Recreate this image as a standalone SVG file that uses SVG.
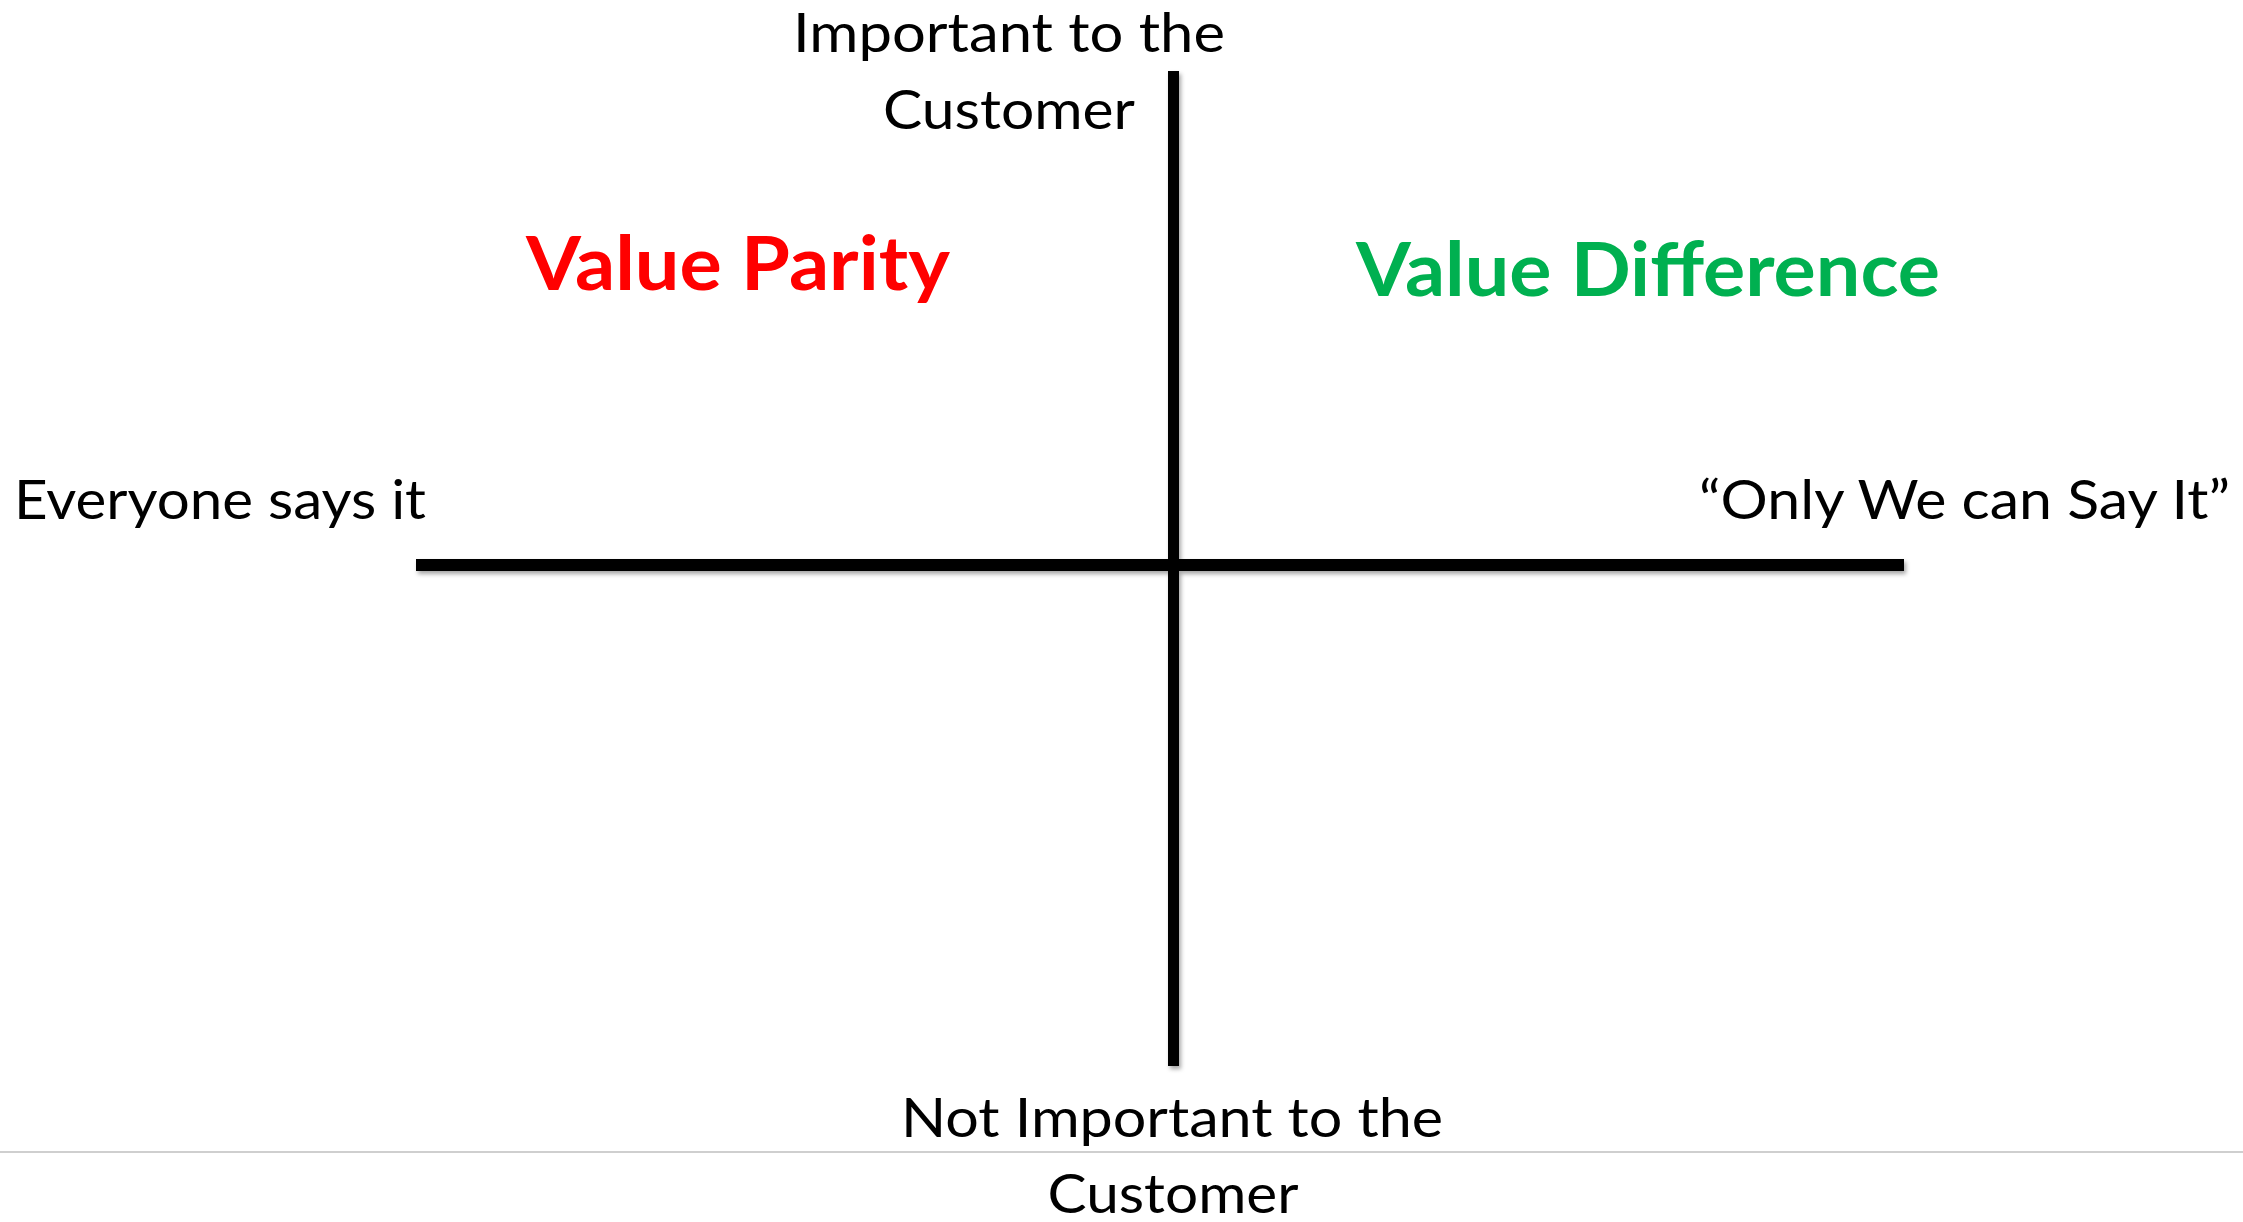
<svg xmlns="http://www.w3.org/2000/svg" width="2243" height="1222" viewBox="0 0 2243 1222">
  <defs>
    <style>
      .lbl { font-family: Lato, "Open Sans", "Liberation Sans", sans-serif; font-size: 55px; fill: #000; }
      .head { font-family: Lato, "Open Sans", "Liberation Sans", sans-serif; font-size: 75px; font-weight: bold; }
      .axis { fill: #000; }
    </style>
    <filter id="shadow" x="-5%" y="-5%" width="110%" height="110%">
      <feDropShadow dx="2" dy="3" stdDeviation="2" flood-color="#000" flood-opacity="0.35"/>
    </filter>
  </defs>
  <rect width="2243" height="1222" fill="#fff"/>

  <!-- page separator -->
  <line x1="0" y1="1152" x2="2243" y2="1152" stroke="#cfcfcf" stroke-width="2"/>

  <!-- axes -->
  <g id="axes" filter="url(#shadow)">
    <rect class="axis" x="416" y="559" width="1488" height="12"/>
    <rect class="axis" x="1168" y="71" width="11" height="995"/>
  </g>

  <!-- vertical axis labels -->
  <g id="top-label">
    <text class="lbl" x="1009" y="52" text-anchor="middle" textLength="432" lengthAdjust="spacingAndGlyphs">Important to the</text>
    <text class="lbl" x="1009" y="129" text-anchor="middle" textLength="252" lengthAdjust="spacingAndGlyphs">Customer</text>
  </g>
  <g id="bottom-label">
    <text class="lbl" x="1172" y="1137" text-anchor="middle" textLength="542" lengthAdjust="spacingAndGlyphs">Not Important to the</text>
    <text class="lbl" x="1173" y="1213" text-anchor="middle" textLength="251" lengthAdjust="spacingAndGlyphs">Customer</text>
  </g>

  <!-- horizontal axis labels -->
  <g id="left-label">
    <text class="lbl" x="14" y="519" textLength="412" lengthAdjust="spacingAndGlyphs">Everyone says it</text>
  </g>
  <g id="right-label">
    <text class="lbl" x="1699" y="519" textLength="531" lengthAdjust="spacingAndGlyphs">“Only We can Say It”</text>
  </g>

  <!-- quadrant headings -->
  <g id="value-parity">
    <text class="head" x="526" y="290" fill="#ff0000" textLength="424" lengthAdjust="spacingAndGlyphs">Value Parity</text>
  </g>
  <g id="value-difference">
    <text class="head" x="1356" y="296" fill="#00b050" textLength="584" lengthAdjust="spacingAndGlyphs">Value Difference</text>
  </g>
</svg>
